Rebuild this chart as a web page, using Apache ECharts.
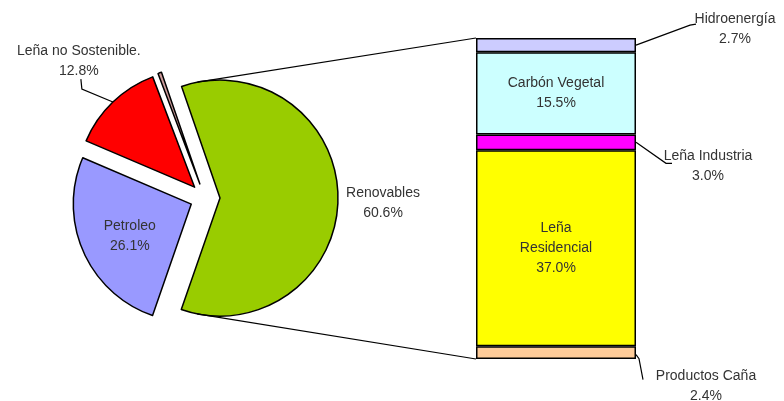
<!DOCTYPE html>
<html><head><meta charset="utf-8">
<script src="https://cdn.jsdelivr.net/npm/echarts@6/dist/echarts.min.js"></script>
<style>html,body{margin:0;padding:0;background:#fff}#c{width:784px;height:401px}</style>
</head><body><div id="c"></div>
<script>
const pieNames = ['Renovables', 'Petroleo', 'Leña no Sostenible.', 'Otros'];
const pieValues = [60.6, 26.1, 12.8, 0.5];
const pieColors = ['#99CC00', '#9999FF', '#FF0000', '#CC9999'];
const barNames = ['Productos Caña', 'Leña Residencial', 'Leña Industria', 'Carbón Vegetal', 'Hidroenergía'];
const barLabels = ['Productos Caña', 'Leña\nResidencial', 'Leña Industria', 'Carbón Vegetal', 'Hidroenergía'];
const barValues = [2.4, 37.0, 3.0, 15.5, 2.7];
const barColors = ['#FFCC99', '#FFFF00', '#FF00FF', '#CCFFFF', '#CCCCFF'];
const barInside = [false, true, false, true, false];

const CX = 205, CY = 198, R = 118, OFF = 15, START = 109;
const GL = 476, GW = 160, GT = 38, GB = 42;
const total = pieValues.reduce((a, b) => a + b, 0);
const barTotal = barValues.reduce((a, b) => a + b, 0);
const ang = []; let cum = 0;
pieValues.forEach(v => { const a0 = START - cum / total * 360; cum += v; const a1 = START - cum / total * 360; ang.push({a0, a1, mid: (a0 + a1) / 2}); });
const rad = d => d * Math.PI / 180;
function sliceCenter(i) { const m = rad(ang[i].mid); return [CX + OFF * Math.cos(m), CY - OFF * Math.sin(m)]; }
function polar(i, deg, r) { const c = sliceCenter(i); return [c[0] + r * Math.cos(rad(deg)), c[1] - r * Math.sin(rad(deg))]; }

const FONT = 'Liberation Sans, Arial, sans-serif';
const txt = {fontFamily: FONT, fontSize: 14, color: '#333', lineHeight: 20};
const pct = v => v.toFixed(1) + '%';

const chart = echarts.init(document.getElementById('c'), null, {renderer: 'canvas'});

const series = [{
  type: 'pie', center: [CX, CY], radius: R, startAngle: START, clockwise: true,
  selectedMode: 'multiple', selectedOffset: OFF, avoidLabelOverlap: false,
  animation: false, emphasis: {disabled: true},
  itemStyle: {borderColor: '#000', borderWidth: 1.5},
  label: {show: false},
  labelLine: {show: false},
  data: pieNames.map((n, i) => ({name: n, value: pieValues[i], selected: true,
    itemStyle: {color: pieColors[i]}}))
}];

const barOffsets = {0: [70, 33], 2: [72, 24], 4: [99, -16]};
barNames.forEach((n, i) => {
  series.push({
    type: 'bar', stack: 'r', name: n, data: [barValues[i]], barWidth: '100%',
    animation: false, emphasis: {disabled: true},
    itemStyle: {color: barColors[i], borderColor: '#000', borderWidth: 1.5},
    label: Object.assign({show: true, position: barInside[i] ? 'inside' : 'right', align: 'center',
      formatter: p => barLabels[i] + '\n' + pct(p.value)}, txt),
    labelLayout: barInside[i] ? null : function (p) {
      const o = barOffsets[i];
      return {x: p.rect.x + p.rect.width + o[0], y: p.rect.y + p.rect.height / 2 + o[1], align: 'center', verticalAlign: 'middle'};
    }
  });
});

chart.setOption({
  backgroundColor: '#fff',
  grid: {left: GL, width: GW, top: GT, bottom: GB},
  xAxis: {type: 'category', data: ['Renovables'], show: false},
  yAxis: {type: 'value', min: 0, max: barTotal, show: false},
  series
});

// connector lines, leader lines and pie labels computed from layout
const yPx = v => chart.convertToPixel({yAxisIndex: 0}, v);
const right = GL + GW;
const cums = []; let cc = 0; barValues.forEach(v => { cums.push([cc, cc + v]); cc += v; });
const midY = i => (yPx(cums[i][0]) + yPx(cums[i][1])) / 2;
const pTop = polar(0, ang[0].a0 - 8, R), pBot = polar(0, ang[0].a1 + 8, R);
const redArc = polar(2, ang[2].mid, R);
const ln = pts => ({type: 'polyline', silent: true, z: 100, shape: {points: pts}, style: {stroke: '#000', lineWidth: 1.2, fill: null}});
const tx = (pos, i) => ({type: 'text', silent: true, z: 100, x: pos[0], y: pos[1],
  style: {text: pieNames[i] + '\n' + pct(pieValues[i]), fill: '#333', font: '14px ' + FONT,
    align: 'center', verticalAlign: 'middle', lineHeight: 20}});
const m4 = midY(4), m2 = midY(2), m0 = midY(0);
const gc = sliceCenter(0);
const pl = polar(1, ang[1].mid, R * 0.57);
chart.setOption({graphic: [
  ln([pTop, [GL, yPx(barTotal)]]),
  ln([pBot, [GL, yPx(0)]]),
  ln([redArc, [redArc[0] - 31, redArc[1] - 13], [redArc[0] - 32, redArc[1] - 23]]),
  ln([[right, m4], [right + 54, m4 - 20], [right + 60, m4 - 21]]),
  ln([[right, m2], [right + 30, m2 + 21], [right + 36, m2 + 21]]),
  ln([[right, m0 + 2], [right + 3, m0 + 6], [right + 7, m0 + 27]]),
  tx([gc[0] + R + 45, CY + 5], 0),
  tx([pl[0], pl[1] + 5], 1),
  tx([redArc[0] - 34, redArc[1] - 41], 2)
]});
</script></body></html>
